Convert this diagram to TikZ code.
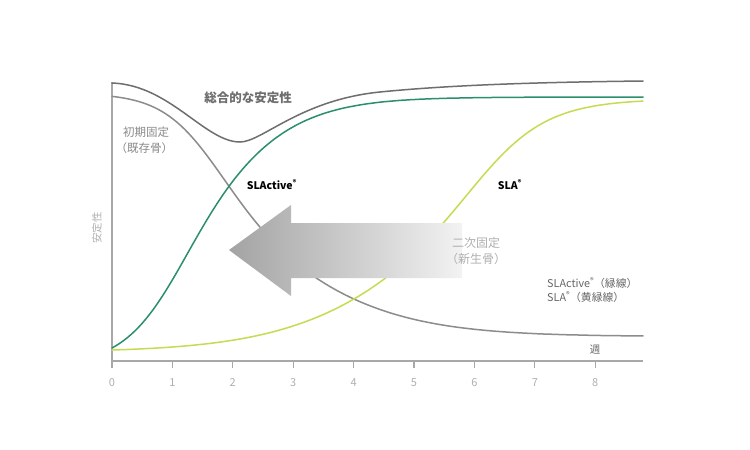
\documentclass[tikz,border=0pt]{standalone}
\usepackage{fontspec}
\setmainfont{Noto Sans CJK JP}
\usetikzlibrary{calc}
\definecolor{totalc}{HTML}{6E6E6E}
\definecolor{initc}{HTML}{8C8C8C}
\definecolor{greenc}{HTML}{2A8F6A}
\definecolor{yellc}{HTML}{C6DB52}
\definecolor{axisc}{HTML}{A8A8A8}
\definecolor{lbl}{HTML}{8A8A8A}
\definecolor{lightlbl}{HTML}{B0B0B0}
\tikzset{
  curve/.style={line width=1.5pt, line cap=round},
  axisline/.style={draw=axisc, line width=1.1pt},
  ticklbl/.style={text=lightlbl, font=\fontsize{11}{12}\selectfont, inner sep=0pt},
  jplbl/.style={text=lbl, font=\fontsize{11.5}{16}\selectfont, inner sep=0pt},
  boldlbl/.style={text=black, font=\bfseries\fontsize{10.5}{12}\selectfont, inner sep=0pt},
  declare function={
    sg(\t)=1/(1+exp(-\t));
    wg(\x)=32+14*sg((\x-200)/40);
    fg(\x)=sg((\x-200)/wg(\x));
    wi(\x)=30+35*sg((\x-250)/50);
    fi(\x)=sg((\x-250)/wi(\x));
    wy(\x)=70-28*sg((\x-441)/50);
    fy(\x)=sg((\x-441)/wy(\x));
  }
}
\begin{document}
\begin{tikzpicture}[x=1pt,y=-1pt]
\fill[white] (0,0) rectangle (750,450);
\useasboundingbox (0,0) rectangle (750,450);
% axes
\coordinate (o) at (112,361);
\coordinate (ytop) at (112,82);
\coordinate (xend) at (643,361);
\draw[axisline] (ytop) -- (o) -- (xend);
\foreach \i in {0,...,8}{
  \coordinate (t\i) at ({112+60.4*\i},361);
  \draw[axisc, line width=1.1pt] (t\i) -- ++(0,7);
  \node[ticklbl] (tl\i) at ({112+60.4*\i},383) {\i};
}
% curves
\draw[curve, totalc] (112,83) .. controls (170,85) and (205,142) .. (240,142)
  .. controls (262,142) and (300,100) .. (380,92)
  .. controls (460,84) and (560,82) .. (643,81);
\draw[curve, initc] plot[domain=112:643, samples=140, variable=\x] ({\x},{93.1+243.5*fi(\x)});
\draw[curve, greenc] plot[domain=112:643, samples=140, variable=\x] ({\x},{366-269*fg(\x)});
\draw[curve, yellc] plot[domain=112:643, samples=140, variable=\x] ({\x},{352.3-253.4*fy(\x)});
% gradient arrow
\coordinate (atip) at (229,250);
\shade[left color=black!36, right color=black!5]
  (atip) -- (291,205) -- (291,223) -- (462,223) -- (462,278) -- (291,278) -- (291,296) -- cycle;
% labels
\node[jplbl, text=totalc, font=\bfseries\fontsize{12.5}{14}\selectfont] (total) at (248,98) {総合的な安定性};
\node[jplbl, align=center] (init) at (146,140) {初期固定\\\hspace*{-0.3em}（既存骨）};
\node[boldlbl] (slactive) at (272,185) {SLActive\textsuperscript{®}};
\node[boldlbl] (sla) at (510,185) {SLA\textsuperscript{®}};
\node[jplbl, text=lightlbl, align=left, anchor=west, font=\fontsize{12}{16}\selectfont] (second) at (452,251) {二次固定\\\hspace*{-0.5em}（新生骨）};
\node[jplbl, text=black!60, align=left, anchor=west, font=\fontsize{10.8}{14.5}\selectfont] (legend) at (547,290) {SLActive\textsuperscript{®}（緑線）\\SLA\textsuperscript{®}（黄緑線）};
\node[jplbl, text=black!60, font=\fontsize{10.5}{12}\selectfont] (week) at (595,350) {週};
\node[jplbl, text=lightlbl, rotate=90, font=\fontsize{10.5}{12}\selectfont] (ylab) at (97,228) {安定性};
\end{tikzpicture}
\end{document}
